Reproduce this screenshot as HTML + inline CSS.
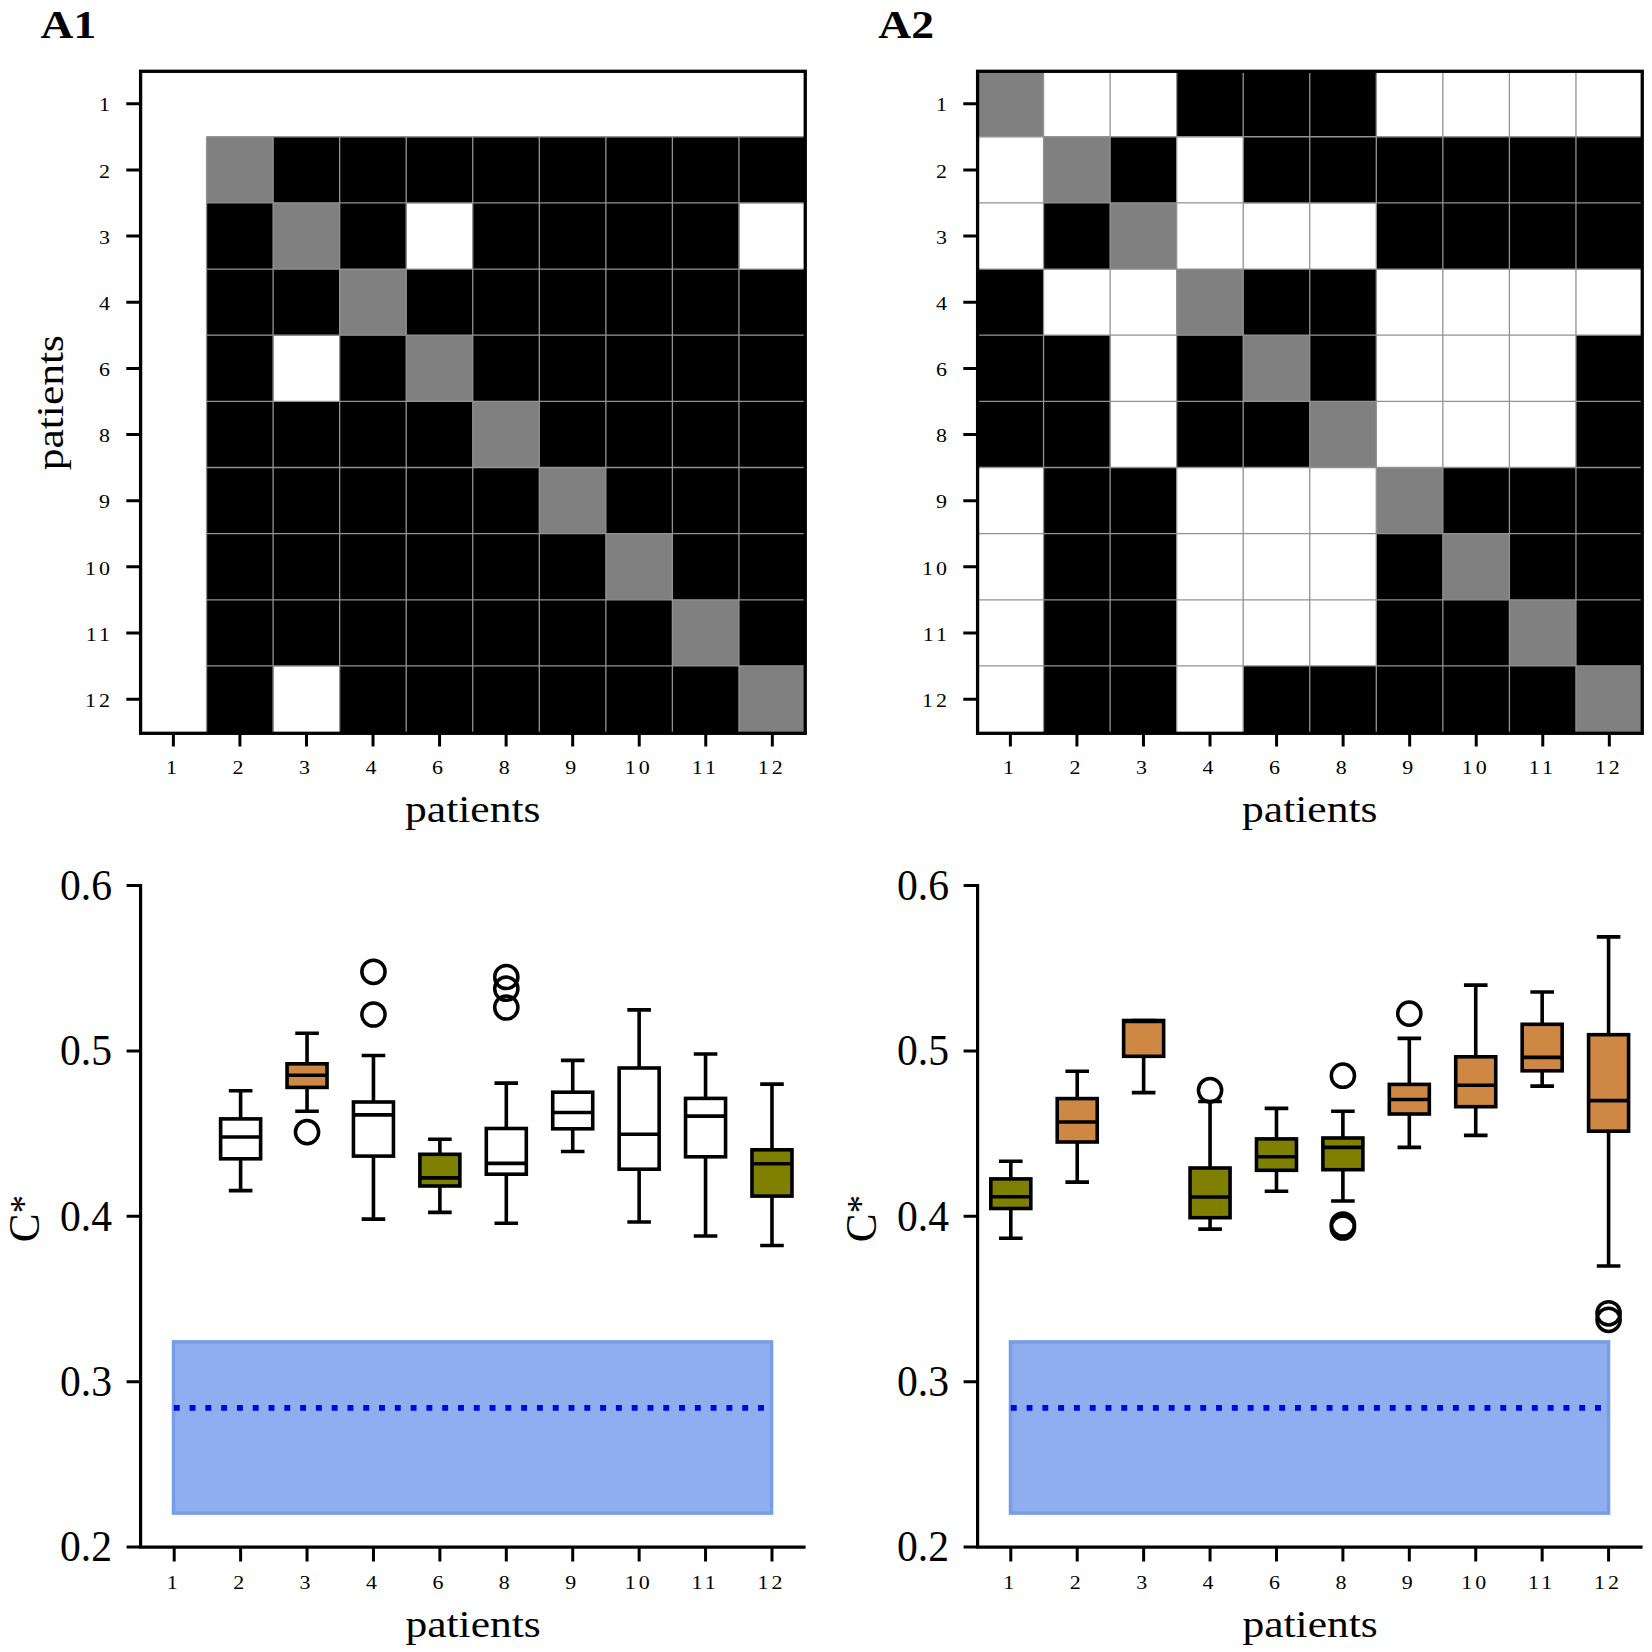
<!DOCTYPE html>
<html lang="en"><head><meta charset="utf-8"><title>Figure A1 A2</title>
<style>html,body{margin:0;padding:0;background:#fff;width:1652px;height:1652px;overflow:hidden}svg{display:block}</style></head>
<body>
<svg width="1652" height="1652" viewBox="0 0 1652 1652" font-family='"Liberation Serif", "DejaVu Serif", serif' fill="#000">
<rect width="1652" height="1652" fill="#fff"/>
<rect x="206.55" y="136.75" width="66.85" height="66.45" fill="#808080"/>
<rect x="273.10" y="136.75" width="66.85" height="66.45" fill="#000000"/>
<rect x="339.65" y="136.75" width="66.85" height="66.45" fill="#000000"/>
<rect x="406.20" y="136.75" width="66.85" height="66.45" fill="#000000"/>
<rect x="472.75" y="136.75" width="66.85" height="66.45" fill="#000000"/>
<rect x="539.30" y="136.75" width="66.85" height="66.45" fill="#000000"/>
<rect x="605.85" y="136.75" width="66.85" height="66.45" fill="#000000"/>
<rect x="672.40" y="136.75" width="66.85" height="66.45" fill="#000000"/>
<rect x="738.95" y="136.75" width="66.85" height="66.45" fill="#000000"/>
<rect x="206.55" y="202.90" width="66.85" height="66.45" fill="#000000"/>
<rect x="273.10" y="202.90" width="66.85" height="66.45" fill="#808080"/>
<rect x="339.65" y="202.90" width="66.85" height="66.45" fill="#000000"/>
<rect x="472.75" y="202.90" width="66.85" height="66.45" fill="#000000"/>
<rect x="539.30" y="202.90" width="66.85" height="66.45" fill="#000000"/>
<rect x="605.85" y="202.90" width="66.85" height="66.45" fill="#000000"/>
<rect x="672.40" y="202.90" width="66.85" height="66.45" fill="#000000"/>
<rect x="206.55" y="269.05" width="66.85" height="66.45" fill="#000000"/>
<rect x="273.10" y="269.05" width="66.85" height="66.45" fill="#000000"/>
<rect x="339.65" y="269.05" width="66.85" height="66.45" fill="#808080"/>
<rect x="406.20" y="269.05" width="66.85" height="66.45" fill="#000000"/>
<rect x="472.75" y="269.05" width="66.85" height="66.45" fill="#000000"/>
<rect x="539.30" y="269.05" width="66.85" height="66.45" fill="#000000"/>
<rect x="605.85" y="269.05" width="66.85" height="66.45" fill="#000000"/>
<rect x="672.40" y="269.05" width="66.85" height="66.45" fill="#000000"/>
<rect x="738.95" y="269.05" width="66.85" height="66.45" fill="#000000"/>
<rect x="206.55" y="335.20" width="66.85" height="66.45" fill="#000000"/>
<rect x="339.65" y="335.20" width="66.85" height="66.45" fill="#000000"/>
<rect x="406.20" y="335.20" width="66.85" height="66.45" fill="#808080"/>
<rect x="472.75" y="335.20" width="66.85" height="66.45" fill="#000000"/>
<rect x="539.30" y="335.20" width="66.85" height="66.45" fill="#000000"/>
<rect x="605.85" y="335.20" width="66.85" height="66.45" fill="#000000"/>
<rect x="672.40" y="335.20" width="66.85" height="66.45" fill="#000000"/>
<rect x="738.95" y="335.20" width="66.85" height="66.45" fill="#000000"/>
<rect x="206.55" y="401.35" width="66.85" height="66.45" fill="#000000"/>
<rect x="273.10" y="401.35" width="66.85" height="66.45" fill="#000000"/>
<rect x="339.65" y="401.35" width="66.85" height="66.45" fill="#000000"/>
<rect x="406.20" y="401.35" width="66.85" height="66.45" fill="#000000"/>
<rect x="472.75" y="401.35" width="66.85" height="66.45" fill="#808080"/>
<rect x="539.30" y="401.35" width="66.85" height="66.45" fill="#000000"/>
<rect x="605.85" y="401.35" width="66.85" height="66.45" fill="#000000"/>
<rect x="672.40" y="401.35" width="66.85" height="66.45" fill="#000000"/>
<rect x="738.95" y="401.35" width="66.85" height="66.45" fill="#000000"/>
<rect x="206.55" y="467.50" width="66.85" height="66.45" fill="#000000"/>
<rect x="273.10" y="467.50" width="66.85" height="66.45" fill="#000000"/>
<rect x="339.65" y="467.50" width="66.85" height="66.45" fill="#000000"/>
<rect x="406.20" y="467.50" width="66.85" height="66.45" fill="#000000"/>
<rect x="472.75" y="467.50" width="66.85" height="66.45" fill="#000000"/>
<rect x="539.30" y="467.50" width="66.85" height="66.45" fill="#808080"/>
<rect x="605.85" y="467.50" width="66.85" height="66.45" fill="#000000"/>
<rect x="672.40" y="467.50" width="66.85" height="66.45" fill="#000000"/>
<rect x="738.95" y="467.50" width="66.85" height="66.45" fill="#000000"/>
<rect x="206.55" y="533.65" width="66.85" height="66.45" fill="#000000"/>
<rect x="273.10" y="533.65" width="66.85" height="66.45" fill="#000000"/>
<rect x="339.65" y="533.65" width="66.85" height="66.45" fill="#000000"/>
<rect x="406.20" y="533.65" width="66.85" height="66.45" fill="#000000"/>
<rect x="472.75" y="533.65" width="66.85" height="66.45" fill="#000000"/>
<rect x="539.30" y="533.65" width="66.85" height="66.45" fill="#000000"/>
<rect x="605.85" y="533.65" width="66.85" height="66.45" fill="#808080"/>
<rect x="672.40" y="533.65" width="66.85" height="66.45" fill="#000000"/>
<rect x="738.95" y="533.65" width="66.85" height="66.45" fill="#000000"/>
<rect x="206.55" y="599.80" width="66.85" height="66.45" fill="#000000"/>
<rect x="273.10" y="599.80" width="66.85" height="66.45" fill="#000000"/>
<rect x="339.65" y="599.80" width="66.85" height="66.45" fill="#000000"/>
<rect x="406.20" y="599.80" width="66.85" height="66.45" fill="#000000"/>
<rect x="472.75" y="599.80" width="66.85" height="66.45" fill="#000000"/>
<rect x="539.30" y="599.80" width="66.85" height="66.45" fill="#000000"/>
<rect x="605.85" y="599.80" width="66.85" height="66.45" fill="#000000"/>
<rect x="672.40" y="599.80" width="66.85" height="66.45" fill="#808080"/>
<rect x="738.95" y="599.80" width="66.85" height="66.45" fill="#000000"/>
<rect x="206.55" y="665.95" width="66.85" height="66.45" fill="#000000"/>
<rect x="339.65" y="665.95" width="66.85" height="66.45" fill="#000000"/>
<rect x="406.20" y="665.95" width="66.85" height="66.45" fill="#000000"/>
<rect x="472.75" y="665.95" width="66.85" height="66.45" fill="#000000"/>
<rect x="539.30" y="665.95" width="66.85" height="66.45" fill="#000000"/>
<rect x="605.85" y="665.95" width="66.85" height="66.45" fill="#000000"/>
<rect x="672.40" y="665.95" width="66.85" height="66.45" fill="#000000"/>
<rect x="738.95" y="665.95" width="66.85" height="66.45" fill="#808080"/>
<path d="M206.55 136.75V732.10M206.55 136.75H805.50M273.10 136.75V732.10M206.55 202.90H805.50M339.65 136.75V732.10M206.55 269.05H805.50M406.20 136.75V732.10M206.55 335.20H805.50M472.75 136.75V732.10M206.55 401.35H805.50M539.30 136.75V732.10M206.55 467.50H805.50M605.85 136.75V732.10M206.55 533.65H805.50M672.40 136.75V732.10M206.55 599.80H805.50M738.95 136.75V732.10M206.55 665.95H805.50M206.55 136.75V732.10M206.55 136.75H805.50" stroke="#929292" stroke-width="1.3" fill="none"/>
<rect x="140.60" y="71.30" width="664.65" height="662.00" fill="none" stroke="#000" stroke-width="3.3"/>
<path d="M173.38 733.00v13.5M140.00 103.77h-13.7M239.92 733.00v13.5M140.00 169.92h-13.7M306.48 733.00v13.5M140.00 236.07h-13.7M373.02 733.00v13.5M140.00 302.23h-13.7M439.57 733.00v13.5M140.00 368.38h-13.7M506.12 733.00v13.5M140.00 434.53h-13.7M572.68 733.00v13.5M140.00 500.68h-13.7M639.23 733.00v13.5M140.00 566.83h-13.7M705.77 733.00v13.5M140.00 632.98h-13.7M772.33 733.00v13.5M140.00 699.13h-13.7" stroke="#000" stroke-width="3" fill="none"/>
<text transform="translate(171.38,773.80) scale(1.22,1)" font-size="18.0" text-anchor="middle" font-weight="normal">1</text>
<text transform="translate(110.00,111.47) scale(1.22,1)" font-size="18.0" text-anchor="end" font-weight="normal">1</text>
<text transform="translate(237.92,773.80) scale(1.22,1)" font-size="18.0" text-anchor="middle" font-weight="normal">2</text>
<text transform="translate(110.00,177.62) scale(1.22,1)" font-size="18.0" text-anchor="end" font-weight="normal">2</text>
<text transform="translate(304.48,773.80) scale(1.22,1)" font-size="18.0" text-anchor="middle" font-weight="normal">3</text>
<text transform="translate(110.00,243.77) scale(1.22,1)" font-size="18.0" text-anchor="end" font-weight="normal">3</text>
<text transform="translate(371.02,773.80) scale(1.22,1)" font-size="18.0" text-anchor="middle" font-weight="normal">4</text>
<text transform="translate(110.00,309.93) scale(1.22,1)" font-size="18.0" text-anchor="end" font-weight="normal">4</text>
<text transform="translate(437.57,773.80) scale(1.22,1)" font-size="18.0" text-anchor="middle" font-weight="normal">6</text>
<text transform="translate(110.00,376.07) scale(1.22,1)" font-size="18.0" text-anchor="end" font-weight="normal">6</text>
<text transform="translate(504.12,773.80) scale(1.22,1)" font-size="18.0" text-anchor="middle" font-weight="normal">8</text>
<text transform="translate(110.00,442.23) scale(1.22,1)" font-size="18.0" text-anchor="end" font-weight="normal">8</text>
<text transform="translate(570.68,773.80) scale(1.22,1)" font-size="18.0" text-anchor="middle" font-weight="normal">9</text>
<text transform="translate(110.00,508.38) scale(1.22,1)" font-size="18.0" text-anchor="end" font-weight="normal">9</text>
<text transform="translate(638.75,773.80) scale(1.22,1)" font-size="18.0" text-anchor="middle" font-weight="normal" letter-spacing="2.5">10</text>
<text transform="translate(113.05,574.53) scale(1.22,1)" font-size="18.0" text-anchor="end" font-weight="normal" letter-spacing="2.5">10</text>
<text transform="translate(705.30,773.80) scale(1.22,1)" font-size="18.0" text-anchor="middle" font-weight="normal" letter-spacing="2.5">11</text>
<text transform="translate(113.05,640.68) scale(1.22,1)" font-size="18.0" text-anchor="end" font-weight="normal" letter-spacing="2.5">11</text>
<text transform="translate(771.85,773.80) scale(1.22,1)" font-size="18.0" text-anchor="middle" font-weight="normal" letter-spacing="2.5">12</text>
<text transform="translate(113.05,706.83) scale(1.22,1)" font-size="18.0" text-anchor="end" font-weight="normal" letter-spacing="2.5">12</text>
<text transform="translate(472.75,822.30) scale(1.128,1)" font-size="38.6" text-anchor="middle" font-weight="normal">patients</text>
<text transform="translate(62.60,402.65) rotate(-90) scale(1.128,1)" font-size="38.6" text-anchor="middle" font-weight="normal">patients</text>
<rect x="977.00" y="70.60" width="66.85" height="66.45" fill="#808080"/>
<rect x="1176.65" y="70.60" width="66.85" height="66.45" fill="#000000"/>
<rect x="1243.20" y="70.60" width="66.85" height="66.45" fill="#000000"/>
<rect x="1309.75" y="70.60" width="66.85" height="66.45" fill="#000000"/>
<rect x="1043.55" y="136.75" width="66.85" height="66.45" fill="#808080"/>
<rect x="1110.10" y="136.75" width="66.85" height="66.45" fill="#000000"/>
<rect x="1243.20" y="136.75" width="66.85" height="66.45" fill="#000000"/>
<rect x="1309.75" y="136.75" width="66.85" height="66.45" fill="#000000"/>
<rect x="1376.30" y="136.75" width="66.85" height="66.45" fill="#000000"/>
<rect x="1442.85" y="136.75" width="66.85" height="66.45" fill="#000000"/>
<rect x="1509.40" y="136.75" width="66.85" height="66.45" fill="#000000"/>
<rect x="1575.95" y="136.75" width="66.85" height="66.45" fill="#000000"/>
<rect x="1043.55" y="202.90" width="66.85" height="66.45" fill="#000000"/>
<rect x="1110.10" y="202.90" width="66.85" height="66.45" fill="#808080"/>
<rect x="1376.30" y="202.90" width="66.85" height="66.45" fill="#000000"/>
<rect x="1442.85" y="202.90" width="66.85" height="66.45" fill="#000000"/>
<rect x="1509.40" y="202.90" width="66.85" height="66.45" fill="#000000"/>
<rect x="1575.95" y="202.90" width="66.85" height="66.45" fill="#000000"/>
<rect x="977.00" y="269.05" width="66.85" height="66.45" fill="#000000"/>
<rect x="1176.65" y="269.05" width="66.85" height="66.45" fill="#808080"/>
<rect x="1243.20" y="269.05" width="66.85" height="66.45" fill="#000000"/>
<rect x="1309.75" y="269.05" width="66.85" height="66.45" fill="#000000"/>
<rect x="977.00" y="335.20" width="66.85" height="66.45" fill="#000000"/>
<rect x="1043.55" y="335.20" width="66.85" height="66.45" fill="#000000"/>
<rect x="1176.65" y="335.20" width="66.85" height="66.45" fill="#000000"/>
<rect x="1243.20" y="335.20" width="66.85" height="66.45" fill="#808080"/>
<rect x="1309.75" y="335.20" width="66.85" height="66.45" fill="#000000"/>
<rect x="1575.95" y="335.20" width="66.85" height="66.45" fill="#000000"/>
<rect x="977.00" y="401.35" width="66.85" height="66.45" fill="#000000"/>
<rect x="1043.55" y="401.35" width="66.85" height="66.45" fill="#000000"/>
<rect x="1176.65" y="401.35" width="66.85" height="66.45" fill="#000000"/>
<rect x="1243.20" y="401.35" width="66.85" height="66.45" fill="#000000"/>
<rect x="1309.75" y="401.35" width="66.85" height="66.45" fill="#808080"/>
<rect x="1575.95" y="401.35" width="66.85" height="66.45" fill="#000000"/>
<rect x="1043.55" y="467.50" width="66.85" height="66.45" fill="#000000"/>
<rect x="1110.10" y="467.50" width="66.85" height="66.45" fill="#000000"/>
<rect x="1376.30" y="467.50" width="66.85" height="66.45" fill="#808080"/>
<rect x="1442.85" y="467.50" width="66.85" height="66.45" fill="#000000"/>
<rect x="1509.40" y="467.50" width="66.85" height="66.45" fill="#000000"/>
<rect x="1575.95" y="467.50" width="66.85" height="66.45" fill="#000000"/>
<rect x="1043.55" y="533.65" width="66.85" height="66.45" fill="#000000"/>
<rect x="1110.10" y="533.65" width="66.85" height="66.45" fill="#000000"/>
<rect x="1376.30" y="533.65" width="66.85" height="66.45" fill="#000000"/>
<rect x="1442.85" y="533.65" width="66.85" height="66.45" fill="#808080"/>
<rect x="1509.40" y="533.65" width="66.85" height="66.45" fill="#000000"/>
<rect x="1575.95" y="533.65" width="66.85" height="66.45" fill="#000000"/>
<rect x="1043.55" y="599.80" width="66.85" height="66.45" fill="#000000"/>
<rect x="1110.10" y="599.80" width="66.85" height="66.45" fill="#000000"/>
<rect x="1376.30" y="599.80" width="66.85" height="66.45" fill="#000000"/>
<rect x="1442.85" y="599.80" width="66.85" height="66.45" fill="#000000"/>
<rect x="1509.40" y="599.80" width="66.85" height="66.45" fill="#808080"/>
<rect x="1575.95" y="599.80" width="66.85" height="66.45" fill="#000000"/>
<rect x="1043.55" y="665.95" width="66.85" height="66.45" fill="#000000"/>
<rect x="1110.10" y="665.95" width="66.85" height="66.45" fill="#000000"/>
<rect x="1243.20" y="665.95" width="66.85" height="66.45" fill="#000000"/>
<rect x="1309.75" y="665.95" width="66.85" height="66.45" fill="#000000"/>
<rect x="1376.30" y="665.95" width="66.85" height="66.45" fill="#000000"/>
<rect x="1442.85" y="665.95" width="66.85" height="66.45" fill="#000000"/>
<rect x="1509.40" y="665.95" width="66.85" height="66.45" fill="#000000"/>
<rect x="1575.95" y="665.95" width="66.85" height="66.45" fill="#808080"/>
<path d="M1043.55 70.60V732.10M977.00 136.75H1642.50M1110.10 70.60V732.10M977.00 202.90H1642.50M1176.65 70.60V732.10M977.00 269.05H1642.50M1243.20 70.60V732.10M977.00 335.20H1642.50M1309.75 70.60V732.10M977.00 401.35H1642.50M1376.30 70.60V732.10M977.00 467.50H1642.50M1442.85 70.60V732.10M977.00 533.65H1642.50M1509.40 70.60V732.10M977.00 599.80H1642.50M1575.95 70.60V732.10M977.00 665.95H1642.50" stroke="#929292" stroke-width="1.3" fill="none"/>
<rect x="977.60" y="71.30" width="664.65" height="662.00" fill="none" stroke="#000" stroke-width="3.3"/>
<path d="M1010.38 733.00v13.5M977.00 103.77h-13.7M1076.92 733.00v13.5M977.00 169.92h-13.7M1143.47 733.00v13.5M977.00 236.07h-13.7M1210.02 733.00v13.5M977.00 302.23h-13.7M1276.57 733.00v13.5M977.00 368.38h-13.7M1343.12 733.00v13.5M977.00 434.53h-13.7M1409.67 733.00v13.5M977.00 500.68h-13.7M1476.22 733.00v13.5M977.00 566.83h-13.7M1542.77 733.00v13.5M977.00 632.98h-13.7M1609.32 733.00v13.5M977.00 699.13h-13.7" stroke="#000" stroke-width="3" fill="none"/>
<text transform="translate(1008.38,773.80) scale(1.22,1)" font-size="18.0" text-anchor="middle" font-weight="normal">1</text>
<text transform="translate(947.00,111.47) scale(1.22,1)" font-size="18.0" text-anchor="end" font-weight="normal">1</text>
<text transform="translate(1074.92,773.80) scale(1.22,1)" font-size="18.0" text-anchor="middle" font-weight="normal">2</text>
<text transform="translate(947.00,177.62) scale(1.22,1)" font-size="18.0" text-anchor="end" font-weight="normal">2</text>
<text transform="translate(1141.47,773.80) scale(1.22,1)" font-size="18.0" text-anchor="middle" font-weight="normal">3</text>
<text transform="translate(947.00,243.77) scale(1.22,1)" font-size="18.0" text-anchor="end" font-weight="normal">3</text>
<text transform="translate(1208.02,773.80) scale(1.22,1)" font-size="18.0" text-anchor="middle" font-weight="normal">4</text>
<text transform="translate(947.00,309.93) scale(1.22,1)" font-size="18.0" text-anchor="end" font-weight="normal">4</text>
<text transform="translate(1274.57,773.80) scale(1.22,1)" font-size="18.0" text-anchor="middle" font-weight="normal">6</text>
<text transform="translate(947.00,376.07) scale(1.22,1)" font-size="18.0" text-anchor="end" font-weight="normal">6</text>
<text transform="translate(1341.12,773.80) scale(1.22,1)" font-size="18.0" text-anchor="middle" font-weight="normal">8</text>
<text transform="translate(947.00,442.23) scale(1.22,1)" font-size="18.0" text-anchor="end" font-weight="normal">8</text>
<text transform="translate(1407.67,773.80) scale(1.22,1)" font-size="18.0" text-anchor="middle" font-weight="normal">9</text>
<text transform="translate(947.00,508.38) scale(1.22,1)" font-size="18.0" text-anchor="end" font-weight="normal">9</text>
<text transform="translate(1475.75,773.80) scale(1.22,1)" font-size="18.0" text-anchor="middle" font-weight="normal" letter-spacing="2.5">10</text>
<text transform="translate(950.05,574.53) scale(1.22,1)" font-size="18.0" text-anchor="end" font-weight="normal" letter-spacing="2.5">10</text>
<text transform="translate(1542.30,773.80) scale(1.22,1)" font-size="18.0" text-anchor="middle" font-weight="normal" letter-spacing="2.5">11</text>
<text transform="translate(950.05,640.68) scale(1.22,1)" font-size="18.0" text-anchor="end" font-weight="normal" letter-spacing="2.5">11</text>
<text transform="translate(1608.85,773.80) scale(1.22,1)" font-size="18.0" text-anchor="middle" font-weight="normal" letter-spacing="2.5">12</text>
<text transform="translate(950.05,706.83) scale(1.22,1)" font-size="18.0" text-anchor="end" font-weight="normal" letter-spacing="2.5">12</text>
<text transform="translate(1309.75,822.30) scale(1.128,1)" font-size="38.6" text-anchor="middle" font-weight="normal">patients</text>
<rect x="173.50" y="1341.9" width="598.05" height="171.2" fill="#8eaef0" stroke="#769de5" stroke-width="3.5"/>
<path d="M173.80 1407.8H771.75" stroke="#0000e0" stroke-width="5.7" stroke-dasharray="5.9 9.89" fill="none"/>
<rect x="220.62" y="1118.90" width="40.00" height="39.90" fill="#ffffff" stroke="#000" stroke-width="3.6"/>
<path d="M240.62 1118.90V1090.70M228.82 1090.70H252.42M240.62 1158.80V1190.60M228.82 1190.60H252.42M220.62 1137.00H260.62" stroke="#000" stroke-width="3.6" fill="none"/>
<rect x="287.04" y="1063.80" width="40.00" height="23.60" fill="#cf8843" stroke="#000" stroke-width="3.6"/>
<path d="M307.04 1063.80V1033.20M295.24 1033.20H318.84M307.04 1087.40V1111.20M295.24 1111.20H318.84M287.04 1075.30H327.04" stroke="#000" stroke-width="3.6" fill="none"/>
<circle cx="307.04" cy="1132.10" r="11.6" fill="none" stroke="#000" stroke-width="3.5"/>
<rect x="353.46" y="1102.00" width="40.00" height="54.10" fill="#ffffff" stroke="#000" stroke-width="3.6"/>
<path d="M373.46 1102.00V1055.50M361.66 1055.50H385.26M373.46 1156.10V1219.10M361.66 1219.10H385.26M353.46 1114.90H393.46" stroke="#000" stroke-width="3.6" fill="none"/>
<circle cx="373.46" cy="971.80" r="11.6" fill="none" stroke="#000" stroke-width="3.5"/>
<circle cx="373.46" cy="1014.50" r="11.6" fill="none" stroke="#000" stroke-width="3.5"/>
<rect x="419.88" y="1154.30" width="40.00" height="31.70" fill="#808000" stroke="#000" stroke-width="3.6"/>
<path d="M439.88 1154.30V1139.20M428.08 1139.20H451.68M439.88 1186.00V1212.40M428.08 1212.40H451.68M419.88 1177.90H459.88" stroke="#000" stroke-width="3.6" fill="none"/>
<rect x="486.30" y="1128.50" width="40.00" height="45.70" fill="#ffffff" stroke="#000" stroke-width="3.6"/>
<path d="M506.30 1128.50V1083.10M494.50 1083.10H518.10M506.30 1174.20V1223.30M494.50 1223.30H518.10M486.30 1163.40H526.30" stroke="#000" stroke-width="3.6" fill="none"/>
<circle cx="506.30" cy="977.00" r="11.6" fill="none" stroke="#000" stroke-width="3.5"/>
<circle cx="506.30" cy="988.70" r="11.6" fill="none" stroke="#000" stroke-width="3.5"/>
<circle cx="506.30" cy="1007.50" r="11.6" fill="none" stroke="#000" stroke-width="3.5"/>
<rect x="552.72" y="1092.20" width="40.00" height="36.60" fill="#ffffff" stroke="#000" stroke-width="3.6"/>
<path d="M572.72 1092.20V1060.40M560.92 1060.40H584.52M572.72 1128.80V1151.50M560.92 1151.50H584.52M552.72 1112.50H592.72" stroke="#000" stroke-width="3.6" fill="none"/>
<rect x="619.14" y="1068.00" width="40.00" height="101.20" fill="#ffffff" stroke="#000" stroke-width="3.6"/>
<path d="M639.14 1068.00V1009.90M627.34 1009.90H650.94M639.14 1169.20V1222.00M627.34 1222.00H650.94M619.14 1134.30H659.14" stroke="#000" stroke-width="3.6" fill="none"/>
<rect x="685.56" y="1098.40" width="40.00" height="58.40" fill="#ffffff" stroke="#000" stroke-width="3.6"/>
<path d="M705.56 1098.40V1054.00M693.76 1054.00H717.36M705.56 1156.80V1236.00M693.76 1236.00H717.36M685.56 1116.10H725.56" stroke="#000" stroke-width="3.6" fill="none"/>
<rect x="751.98" y="1149.80" width="40.00" height="46.30" fill="#808000" stroke="#000" stroke-width="3.6"/>
<path d="M771.98 1149.80V1084.10M760.18 1084.10H783.78M771.98 1196.10V1245.50M760.18 1245.50H783.78M751.98 1163.80H791.98" stroke="#000" stroke-width="3.6" fill="none"/>
<path d="M140.60 884.10V1547.10M139.10 1547.10H805.60" stroke="#000" stroke-width="3.2" fill="none"/>
<path d="M174.20 1547.10v14.3M240.62 1547.10v14.3M307.04 1547.10v14.3M373.46 1547.10v14.3M439.88 1547.10v14.3M506.30 1547.10v14.3M572.72 1547.10v14.3M639.14 1547.10v14.3M705.56 1547.10v14.3M771.98 1547.10v14.3M140.60 1547.10h-14M140.60 1381.72h-14M140.60 1216.35h-14M140.60 1050.97h-14M140.60 885.60h-14" stroke="#000" stroke-width="3" fill="none"/>
<text transform="translate(172.20,1588.70) scale(1.22,1)" font-size="18.0" text-anchor="middle" font-weight="normal">1</text>
<text transform="translate(238.62,1588.70) scale(1.22,1)" font-size="18.0" text-anchor="middle" font-weight="normal">2</text>
<text transform="translate(305.04,1588.70) scale(1.22,1)" font-size="18.0" text-anchor="middle" font-weight="normal">3</text>
<text transform="translate(371.46,1588.70) scale(1.22,1)" font-size="18.0" text-anchor="middle" font-weight="normal">4</text>
<text transform="translate(437.88,1588.70) scale(1.22,1)" font-size="18.0" text-anchor="middle" font-weight="normal">6</text>
<text transform="translate(504.30,1588.70) scale(1.22,1)" font-size="18.0" text-anchor="middle" font-weight="normal">8</text>
<text transform="translate(570.72,1588.70) scale(1.22,1)" font-size="18.0" text-anchor="middle" font-weight="normal">9</text>
<text transform="translate(638.66,1588.70) scale(1.22,1)" font-size="18.0" text-anchor="middle" font-weight="normal" letter-spacing="2.5">10</text>
<text transform="translate(705.08,1588.70) scale(1.22,1)" font-size="18.0" text-anchor="middle" font-weight="normal" letter-spacing="2.5">11</text>
<text transform="translate(771.50,1588.70) scale(1.22,1)" font-size="18.0" text-anchor="middle" font-weight="normal" letter-spacing="2.5">12</text>
<text transform="translate(112.00,1561.40) scale(0.945,1)" font-size="44.0" text-anchor="end" font-weight="normal">0.2</text>
<text transform="translate(112.00,1396.02) scale(0.945,1)" font-size="44.0" text-anchor="end" font-weight="normal">0.3</text>
<text transform="translate(112.00,1230.65) scale(0.945,1)" font-size="44.0" text-anchor="end" font-weight="normal">0.4</text>
<text transform="translate(112.00,1065.27) scale(0.945,1)" font-size="44.0" text-anchor="end" font-weight="normal">0.5</text>
<text transform="translate(112.00,899.90) scale(0.945,1)" font-size="44.0" text-anchor="end" font-weight="normal">0.6</text>
<text transform="translate(473.10,1636.70) scale(1.128,1)" font-size="38.6" text-anchor="middle" font-weight="normal">patients</text>
<text transform="translate(38.70,1242.3) rotate(-90) scale(0.98,1)" font-size="44" text-anchor="start">C<tspan font-size="37" dy="-2.8" dx="0.3">*</tspan></text>
<rect x="1010.50" y="1341.9" width="598.05" height="171.2" fill="#8eaef0" stroke="#769de5" stroke-width="3.5"/>
<path d="M1010.80 1407.8H1608.75" stroke="#0000e0" stroke-width="5.7" stroke-dasharray="5.9 9.89" fill="none"/>
<rect x="990.80" y="1178.90" width="40.00" height="29.60" fill="#808000" stroke="#000" stroke-width="3.6"/>
<path d="M1010.80 1178.90V1161.20M999.00 1161.20H1022.60M1010.80 1208.50V1238.20M999.00 1238.20H1022.60M990.80 1196.70H1030.80" stroke="#000" stroke-width="3.6" fill="none"/>
<rect x="1057.22" y="1098.60" width="40.00" height="43.40" fill="#cf8843" stroke="#000" stroke-width="3.6"/>
<path d="M1077.22 1098.60V1071.20M1065.42 1071.20H1089.02M1077.22 1142.00V1182.10M1065.42 1182.10H1089.02M1057.22 1122.00H1097.22" stroke="#000" stroke-width="3.6" fill="none"/>
<rect x="1123.64" y="1020.50" width="40.00" height="35.80" fill="#cf8843" stroke="#000" stroke-width="3.6"/>
<path d="M1131.84 1020.50H1155.44M1143.64 1056.30V1092.60M1131.84 1092.60H1155.44M1123.64 1021.50H1163.64" stroke="#000" stroke-width="3.6" fill="none"/>
<rect x="1190.06" y="1168.00" width="40.00" height="49.70" fill="#808000" stroke="#000" stroke-width="3.6"/>
<path d="M1210.06 1168.00V1101.50M1198.26 1101.50H1221.86M1210.06 1217.70V1229.10M1198.26 1229.10H1221.86M1190.06 1197.00H1230.06" stroke="#000" stroke-width="3.6" fill="none"/>
<circle cx="1210.06" cy="1090.20" r="11.6" fill="none" stroke="#000" stroke-width="3.5"/>
<rect x="1256.48" y="1138.90" width="40.00" height="31.40" fill="#808000" stroke="#000" stroke-width="3.6"/>
<path d="M1276.48 1138.90V1108.40M1264.68 1108.40H1288.28M1276.48 1170.30V1191.20M1264.68 1191.20H1288.28M1256.48 1156.70H1296.48" stroke="#000" stroke-width="3.6" fill="none"/>
<rect x="1322.90" y="1138.00" width="40.00" height="31.70" fill="#808000" stroke="#000" stroke-width="3.6"/>
<path d="M1342.90 1138.00V1111.30M1331.10 1111.30H1354.70M1342.90 1169.70V1201.00M1331.10 1201.00H1354.70M1322.90 1147.40H1362.90" stroke="#000" stroke-width="3.6" fill="none"/>
<circle cx="1342.90" cy="1075.70" r="11.6" fill="none" stroke="#000" stroke-width="3.5"/>
<circle cx="1342.90" cy="1224.50" r="11.6" fill="none" stroke="#000" stroke-width="3.5"/>
<circle cx="1342.90" cy="1227.50" r="11.6" fill="none" stroke="#000" stroke-width="3.5"/>
<rect x="1389.32" y="1084.40" width="40.00" height="29.60" fill="#cf8843" stroke="#000" stroke-width="3.6"/>
<path d="M1409.32 1084.40V1038.40M1397.52 1038.40H1421.12M1409.32 1114.00V1147.40M1397.52 1147.40H1421.12M1389.32 1099.50H1429.32" stroke="#000" stroke-width="3.6" fill="none"/>
<circle cx="1409.32" cy="1013.60" r="11.6" fill="none" stroke="#000" stroke-width="3.5"/>
<rect x="1455.74" y="1056.80" width="40.00" height="49.90" fill="#cf8843" stroke="#000" stroke-width="3.6"/>
<path d="M1475.74 1056.80V985.10M1463.94 985.10H1487.54M1475.74 1106.70V1135.40M1463.94 1135.40H1487.54M1455.74 1085.30H1495.74" stroke="#000" stroke-width="3.6" fill="none"/>
<rect x="1522.16" y="1024.30" width="40.00" height="46.50" fill="#cf8843" stroke="#000" stroke-width="3.6"/>
<path d="M1542.16 1024.30V992.00M1530.36 992.00H1553.96M1542.16 1070.80V1086.10M1530.36 1086.10H1553.96M1522.16 1057.40H1562.16" stroke="#000" stroke-width="3.6" fill="none"/>
<rect x="1588.58" y="1034.70" width="40.00" height="96.50" fill="#cf8843" stroke="#000" stroke-width="3.6"/>
<path d="M1608.58 1034.70V936.90M1596.78 936.90H1620.38M1608.58 1131.20V1266.00M1596.78 1266.00H1620.38M1588.58 1100.60H1628.58" stroke="#000" stroke-width="3.6" fill="none"/>
<circle cx="1608.58" cy="1313.30" r="11.6" fill="none" stroke="#000" stroke-width="3.5"/>
<circle cx="1608.58" cy="1319.80" r="11.6" fill="none" stroke="#000" stroke-width="3.5"/>
<path d="M977.60 884.10V1547.10M976.10 1547.10H1642.60" stroke="#000" stroke-width="3.2" fill="none"/>
<path d="M1010.80 1547.10v14.3M1077.22 1547.10v14.3M1143.64 1547.10v14.3M1210.06 1547.10v14.3M1276.48 1547.10v14.3M1342.90 1547.10v14.3M1409.32 1547.10v14.3M1475.74 1547.10v14.3M1542.16 1547.10v14.3M1608.58 1547.10v14.3M977.60 1547.10h-14M977.60 1381.72h-14M977.60 1216.35h-14M977.60 1050.97h-14M977.60 885.60h-14" stroke="#000" stroke-width="3" fill="none"/>
<text transform="translate(1008.80,1588.70) scale(1.22,1)" font-size="18.0" text-anchor="middle" font-weight="normal">1</text>
<text transform="translate(1075.22,1588.70) scale(1.22,1)" font-size="18.0" text-anchor="middle" font-weight="normal">2</text>
<text transform="translate(1141.64,1588.70) scale(1.22,1)" font-size="18.0" text-anchor="middle" font-weight="normal">3</text>
<text transform="translate(1208.06,1588.70) scale(1.22,1)" font-size="18.0" text-anchor="middle" font-weight="normal">4</text>
<text transform="translate(1274.48,1588.70) scale(1.22,1)" font-size="18.0" text-anchor="middle" font-weight="normal">6</text>
<text transform="translate(1340.90,1588.70) scale(1.22,1)" font-size="18.0" text-anchor="middle" font-weight="normal">8</text>
<text transform="translate(1407.32,1588.70) scale(1.22,1)" font-size="18.0" text-anchor="middle" font-weight="normal">9</text>
<text transform="translate(1475.27,1588.70) scale(1.22,1)" font-size="18.0" text-anchor="middle" font-weight="normal" letter-spacing="2.5">10</text>
<text transform="translate(1541.68,1588.70) scale(1.22,1)" font-size="18.0" text-anchor="middle" font-weight="normal" letter-spacing="2.5">11</text>
<text transform="translate(1608.11,1588.70) scale(1.22,1)" font-size="18.0" text-anchor="middle" font-weight="normal" letter-spacing="2.5">12</text>
<text transform="translate(949.00,1561.40) scale(0.945,1)" font-size="44.0" text-anchor="end" font-weight="normal">0.2</text>
<text transform="translate(949.00,1396.02) scale(0.945,1)" font-size="44.0" text-anchor="end" font-weight="normal">0.3</text>
<text transform="translate(949.00,1230.65) scale(0.945,1)" font-size="44.0" text-anchor="end" font-weight="normal">0.4</text>
<text transform="translate(949.00,1065.27) scale(0.945,1)" font-size="44.0" text-anchor="end" font-weight="normal">0.5</text>
<text transform="translate(949.00,899.90) scale(0.945,1)" font-size="44.0" text-anchor="end" font-weight="normal">0.6</text>
<text transform="translate(1310.10,1636.70) scale(1.128,1)" font-size="38.6" text-anchor="middle" font-weight="normal">patients</text>
<text transform="translate(875.70,1242.3) rotate(-90) scale(0.98,1)" font-size="44" text-anchor="start">C<tspan font-size="37" dy="-2.8" dx="0.3">*</tspan></text>
<text transform="translate(40.50,38.40) scale(1.125,1)" font-size="40.5" text-anchor="start" font-weight="bold">A1</text>
<text transform="translate(878.30,38.40) scale(1.125,1)" font-size="40.5" text-anchor="start" font-weight="bold">A2</text>
</svg>
</body></html>
